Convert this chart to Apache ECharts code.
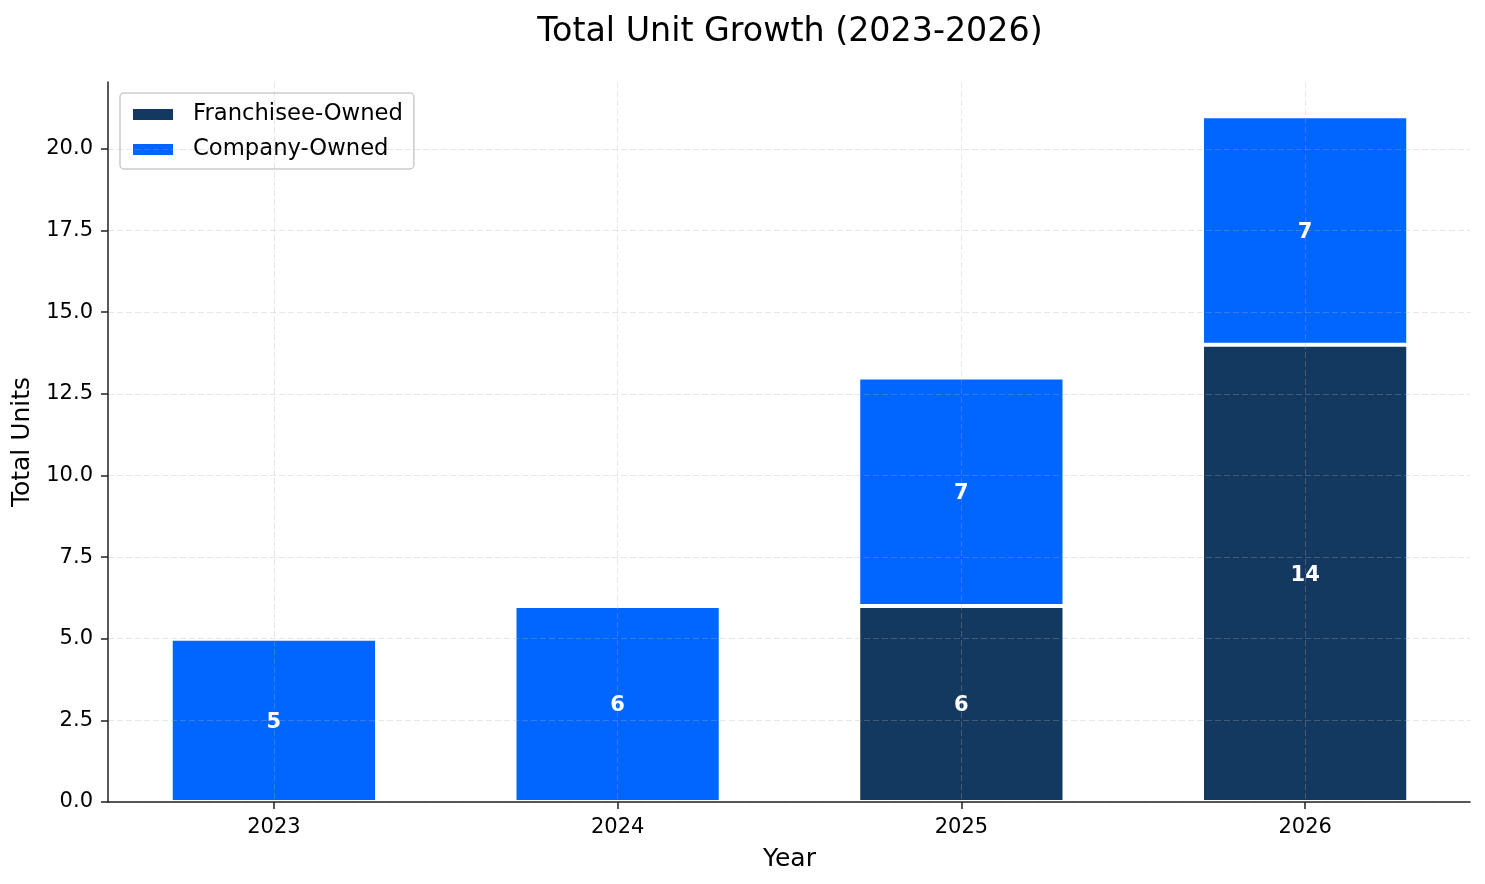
<!DOCTYPE html>
<html>
<head>
<meta charset="utf-8">
<title>Total Unit Growth</title>
<script src="https://cdn.jsdelivr.net/npm/echarts@6/dist/echarts.min.js"></script>
<style>
    html,body{margin:0;padding:0;background:#fff;}
    #main{width:1485px;height:884px;}
</style>
</head>
<body>
<div id="main"></div>
<script>
// data
var years=["2023","2024","2025","2026"];
var franchiseeOwned=[0,0,6,14];
var companyOwned=[5,6,7,7];
var yTicks=[0,2.5,5,7.5,10,12.5,15,17.5,20];

var FONT="DejaVu Sans";
var AXIS_COLOR="#222";
var gridLine={show:true,lineStyle:{color:"rgba(176,176,176,0.3)",width:1,type:[6,3]}};

// one vertical grid line per year (at the bar centres)
var xTicks=[];
for(var i=0;i<years.length;i++){ xTicks.push(i); }

function segLabel(p){
    return p.value>0 ? String(p.value) : "";
}

var myChart=echarts.init(document.getElementById("main"));
myChart.setOption({
    animation:false,
    textStyle:{fontFamily:FONT},
    title:{
        text:"Total Unit Growth (2023-2026)",
        left:785,
        top:11,
        textAlign:"center",
        textStyle:{fontFamily:FONT,fontSize:33.3,fontWeight:"normal",color:"#000"}
    },
    legend:{
        left:120,
        top:93,
        orient:"vertical",
        padding:[10,11,8,11],
        itemWidth:42,
        itemHeight:13,
        itemGap:12,
        icon:"rect",
        backgroundColor:"rgba(255,255,255,0.8)",
        borderColor:"#cccccc",
        borderWidth:1.5,
        borderRadius:4,
        textStyle:{fontFamily:FONT,fontSize:22.7,color:"#000",lineHeight:23,padding:[0,0,0,14]},
        data:["Franchisee-Owned","Company-Owned"]
    },
    // grid 0 holds the bars (band width ~344px like matplotlib's margins),
    // grid 1 is the real plot frame for the spines
    grid:[
        {left:102,right:8,top:82,bottom:82},
        {left:108,right:15,top:82,bottom:82}
    ],
    xAxis:[
        {
            type:"category",
            gridIndex:0,
            position:"bottom",
            data:years,
            z:5,
            name:"Year",
            nameLocation:"middle",
            nameGap:45,
            nameTextStyle:{fontFamily:FONT,fontSize:25,color:"#000"},
            axisLine:{show:false},
            axisTick:{show:true,alignWithLabel:true,length:7,lineStyle:{color:AXIS_COLOR,width:1.5}},
            axisLabel:{margin:15,fontFamily:FONT,fontSize:21,color:"#000"},
            splitLine:{show:false}
        },
        {
            // only used for the dashed vertical grid lines
            type:"value",
            gridIndex:0,
            position:"bottom",
            min:-0.5,
            max:3.5,
            z:5,
            axisLine:{show:false},
            axisTick:{show:false,customValues:xTicks},
            axisLabel:{show:false,customValues:xTicks},
            splitLine:gridLine
        },
        {
            // bottom spine
            type:"value",
            gridIndex:1,
            position:"bottom",
            min:0,
            max:1,
            z:6,
            axisLine:{show:true,onZero:false,lineStyle:{color:AXIS_COLOR,width:1.5}},
            axisTick:{show:false},
            axisLabel:{show:false},
            splitLine:{show:false}
        }
    ],
    yAxis:[
        {
            type:"value",
            gridIndex:0,
            min:0,
            max:22.05,
            show:false
        },
        {
            type:"value",
            gridIndex:1,
            min:0,
            max:22.05,
            z:6,
            name:"Total Units",
            nameLocation:"middle",
            nameGap:66,
            nameTextStyle:{fontFamily:FONT,fontSize:25,color:"#000"},
            axisLine:{show:true,onZero:false,lineStyle:{color:AXIS_COLOR,width:1.5}},
            axisTick:{show:true,customValues:yTicks,length:7,lineStyle:{color:AXIS_COLOR,width:1.5}},
            axisLabel:{customValues:yTicks,margin:15,padding:[5,0,0,0],fontFamily:FONT,fontSize:21,color:"#000",
                formatter:function(v){return v.toFixed(1);}},
            splitLine:gridLine
        }
    ],
    series:[
        {
            name:"Franchisee-Owned",
            type:"bar",
            xAxisIndex:0,
            yAxisIndex:0,
            stack:"units",
            barWidth:"60%",
            data:franchiseeOwned,
            itemStyle:{color:"#143960",borderColor:"#fff",borderWidth:2},
            label:{show:true,position:"inside",offset:[0,2],color:"#fff",fontWeight:"bold",fontSize:21,fontFamily:FONT,formatter:segLabel}
        },
        {
            name:"Company-Owned",
            type:"bar",
            xAxisIndex:0,
            yAxisIndex:0,
            stack:"units",
            barWidth:"60%",
            data:companyOwned,
            itemStyle:{color:"#0066FF",borderColor:"#fff",borderWidth:2},
            label:{show:true,position:"inside",offset:[0,2],color:"#fff",fontWeight:"bold",fontSize:21,fontFamily:FONT,formatter:segLabel}
        }
    ]
});
</script>
</body>
</html>
